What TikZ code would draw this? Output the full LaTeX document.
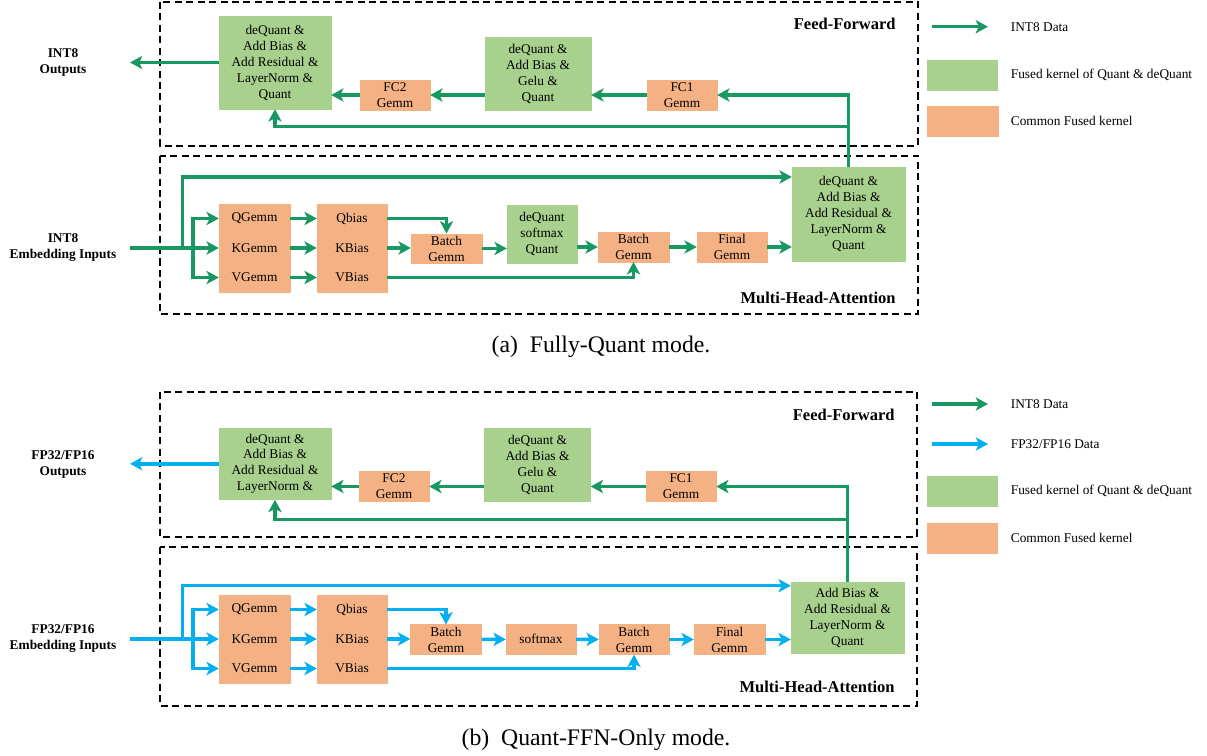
\documentclass[tikz,border=0pt]{standalone}
\usepackage{fontspec}
\setmainfont{Liberation Serif}
\usetikzlibrary{arrows.meta}

\definecolor{int8green}{RGB}{24,152,96}
\definecolor{fpblue}{RGB}{0,176,240}
\definecolor{fusedgreen}{RGB}{169,209,142}
\definecolor{commonorange}{RGB}{244,177,131}

\def\unit{0.02cm}

\tikzset{
  wh/.style 2 args={minimum width={#1*\unit}, minimum height={#2*\unit}},
  kernel/.style={inner sep=0pt, align=center, line width=0.2pt, font=\fontsize{7.6}{9.1}\selectfont},
  fused/.style={kernel, fill=fusedgreen, draw=fusedgreen},
  common/.style={kernel, fill=commonorange, draw=commonorange},
  int8/.style={draw=int8green, line width=2pt, -{Stealth[length=7pt,width=7.5pt,inset=1.8pt,fill=int8green]}},
  fp/.style={draw=fpblue, line width=2pt, -{Stealth[length=7pt,width=7.5pt,inset=1.8pt,fill=fpblue]}},
  block/.style={draw, line width=1.1pt, dash pattern=on 4pt off 2.5pt},
  io/.style={align=center, font=\fontsize{7.6}{9.1}\selectfont\bfseries},
  part/.style={anchor=east, inner sep=0pt, font=\fontsize{9.4}{11}\selectfont\bfseries},
  legend/.style={anchor=west, inner sep=0pt, font=\fontsize{7.6}{9}\selectfont},
  caption/.style={font=\fontsize{13.5}{16}\selectfont},
}

\begin{document}
\begin{tikzpicture}[x=\unit, y=-\unit]
\useasboundingbox (0,0) rectangle (1207,756);

% ---------------- (a) Fully-Quant mode ----------------
% Blocks
\draw[block] (160,2) rectangle (918,145.7);
\draw[block] (160,155.7) rectangle (918,314.3);
\node[part] (aFFname) at (896,24.3) {Feed-Forward};
\node[part] (aMHAname) at (896,297.7) {Multi-Head-Attention};

% Feed-Forward kernels
\node[fused, wh={112}{93}] (aOut) at (275,62.5) {deQuant \&\\Add Bias \&\\Add Residual \&\\LayerNorm \&\\Quant};
\node[common, wh={70}{30}] (aFC2) at (395,95) {FC2\\Gemm};
\node[fused, wh={106}{73}] (aGelu) at (538,73.5) {deQuant \&\\Add Bias \&\\Gelu \&\\Quant};
\node[common, wh={70}{30}] (aFC1) at (682,95) {FC1\\Gemm};

% Attention kernels
\node[common, wh={71}{29.5}] (aQg) at (254.5,218.5) {QGemm};
\node[common, wh={71}{29.5}] (aKg) at (254.5,248) {KGemm};
\node[common, wh={71}{29.5}] (aVg) at (254.5,277.5) {VGemm};
\node[common, wh={70}{29.5}] (aQb) at (352,218.5) {Qbias};
\node[common, wh={70}{29.5}] (aKb) at (352,248) {KBias};
\node[common, wh={70}{29.5}] (aVb) at (352,277.5) {VBias};
\node[common, wh={71}{29.5}] (aBatch1) at (446.5,248.5) {Batch\\Gemm};
\node[fused, wh={70}{58.7}] (aSoftmax) at (542,234.3) {deQuant\\softmax\\Quant};
\node[common, wh={71}{29.7}] (aBatch2) at (633.5,247) {Batch\\Gemm};
\node[common, wh={70}{29.7}] (aFinal) at (732,247) {Final\\Gemm};
\node[fused, wh={113}{94.7}] (aLN) at (848.5,214.3) {deQuant \&\\Add Bias \&\\Add Residual \&\\LayerNorm \&\\Quant};

% Inputs and outputs
\node[io] (aInName) at (63,248) {INT8\\Embedding Inputs};
\node[io] (aOutName) at (63,62.5) {INT8\\Outputs};
\coordinate (aInStart) at (130,248);
\coordinate (aOutEnd) at (130,62.5);
\coordinate (aSplit) at (193,248);
\coordinate (aSplitTop) at (182.3,248);
\coordinate (aTop) at (182.3,177);
\coordinate (aRes) at (848.5,126.7);

% Data flow
\draw[int8] (aInStart) -- (aKg);
\draw[int8] (aSplit) |- (aQg);
\draw[int8] (aSplit) |- (aVg);
\draw[int8] (aSplitTop) -- (aTop) -- (aTop -| aLN.west);
\draw[int8] (aQg) -- (aQb);
\draw[int8] (aKg) -- (aKb);
\draw[int8] (aVg) -- (aVb);
\draw[int8] (aQb) -| (aBatch1);
\draw[int8] (aKb) -- (aKb -| aBatch1.west);
\draw[int8] (aVb) -| (aBatch2);
\draw[int8] (aBatch1) -- (aBatch1 -| aSoftmax.west);
\draw[int8] (aSoftmax.east |- aBatch2) -- (aBatch2);
\draw[int8] (aBatch2) -- (aFinal);
\draw[int8] (aFinal) -- (aFinal -| aLN.west);
\draw[int8] (aLN) |- (aFC1);
\draw[int8] (aRes) -| (aOut);
\draw[int8] (aFC1) -- (aFC1 -| aGelu.east);
\draw[int8] (aGelu.west |- aFC2) -- (aFC2);
\draw[int8] (aFC2) -- (aFC2 -| aOut.east);
\draw[int8] (aOut) -- (aOutEnd);

% Legend
\coordinate (aKeyL) at (932,26.7);
\coordinate (aKeyR) at (988,26.7);
\draw[int8] (aKeyL) -- (aKeyR);
\node[legend] (aKeyInt8) at (1010.5,26.7) {INT8 Data};
\node[fused, wh={70}{30}] (aKeyFused) at (962.5,75) {};
\node[legend] (aKeyFusedName) at (1010.5,75) {Fused kernel of Quant \& deQuant};
\node[common, wh={71}{30}] (aKeyCommon) at (962.5,121) {};
\node[legend] (aKeyCommonName) at (1010.5,121) {Common Fused kernel};

\node[caption] (aCap) at (601,346.7) {(a)\enspace Fully-Quant mode.};

% ---------------- (b) Quant-FFN-Only mode ----------------
% Blocks
\draw[block] (160,391.7) rectangle (917,536.7);
\draw[block] (160,546.7) rectangle (917,705.7);
\node[part] (bFFname) at (895,415) {Feed-Forward};
\node[part] (bMHAname) at (895,687) {Multi-Head-Attention};

% Feed-Forward kernels
\node[fused, wh={112}{71.7}] (bOut) at (275,463.8) {deQuant \&\\Add Bias \&\\Add Residual \&\\LayerNorm \&};
\node[common, wh={70}{30}] (bFC2) at (394,486.5) {FC2\\Gemm};
\node[fused, wh={106}{73}] (bGelu) at (537.5,464.5) {deQuant \&\\Add Bias \&\\Gelu \&\\Quant};
\node[common, wh={70}{30}] (bFC1) at (681,486.5) {FC1\\Gemm};

% Attention kernels
\node[common, wh={71}{29.5}] (bQg) at (254.5,609.5) {QGemm};
\node[common, wh={71}{29.5}] (bKg) at (254.5,639) {KGemm};
\node[common, wh={71}{29.5}] (bVg) at (254.5,668.5) {VGemm};
\node[common, wh={70}{29.5}] (bQb) at (352,609.5) {Qbias};
\node[common, wh={70}{29.5}] (bKb) at (352,639) {KBias};
\node[common, wh={70}{29.5}] (bVb) at (352,668.5) {VBias};
\node[common, wh={71}{29.7}] (bBatch1) at (446,639.5) {Batch\\Gemm};
\node[common, wh={70}{30}] (bSoftmax) at (541,639.3) {softmax};
\node[common, wh={70}{30}] (bBatch2) at (634,639.5) {Batch\\Gemm};
\node[common, wh={71}{30}] (bFinal) at (729.5,639.5) {Final\\Gemm};
\node[fused, wh={113}{71.7}] (bLN) at (847.5,617.8) {Add Bias \&\\Add Residual \&\\LayerNorm \&\\Quant};

% Inputs and outputs
\node[io] (bInName) at (63,638.7) {FP32/FP16\\Embedding Inputs};
\node[io] (bOutName) at (63,464.5) {FP32/FP16\\Outputs};
\coordinate (bInStart) at (130,639);
\coordinate (bOutEnd) at (130,463.8);
\coordinate (bSplit) at (193,639);
\coordinate (bSplitTop) at (182.3,639);
\coordinate (bTop) at (182.3,585.7);
\coordinate (bRes) at (847.5,519.3);

% Data flow
\draw[fp] (bInStart) -- (bKg);
\draw[fp] (bSplit) |- (bQg);
\draw[fp] (bSplit) |- (bVg);
\draw[fp] (bSplitTop) -- (bTop) -- (bTop -| bLN.west);
\draw[fp] (bQg) -- (bQb);
\draw[fp] (bKg) -- (bKb);
\draw[fp] (bVg) -- (bVb);
\draw[fp] (bQb) -| (bBatch1);
\draw[fp] (bKb) -- (bKb -| bBatch1.west);
\draw[fp] (bVb) -| (bBatch2);
\draw[fp] (bBatch1) -- (bSoftmax);
\draw[fp] (bSoftmax) -- (bBatch2);
\draw[fp] (bBatch2) -- (bFinal);
\draw[fp] (bFinal) -- (bFinal -| bLN.west);
\draw[int8] (bLN) |- (bFC1);
\draw[int8] (bRes) -| (bOut);
\draw[int8] (bFC1) -- (bFC1 -| bGelu.east);
\draw[int8] (bGelu.west |- bFC2) -- (bFC2);
\draw[int8] (bFC2) -- (bFC2 -| bOut.east);
\draw[fp] (bOut) -- (bOutEnd);

% Legend
\coordinate (bKeyL) at (932,404);
\coordinate (bKeyR) at (988,404);
\draw[int8] (bKeyL) -- (bKeyR);
\node[legend] (bKeyInt8) at (1010.5,404) {INT8 Data};
\coordinate (bKeyFpL) at (932,444);
\coordinate (bKeyFpR) at (988,444);
\draw[fp] (bKeyFpL) -- (bKeyFpR);
\node[legend] (bKeyFp) at (1010.5,444) {FP32/FP16 Data};
\node[fused, wh={70}{30}] (bKeyFused) at (962.5,490.8) {};
\node[legend] (bKeyFusedName) at (1010.5,490.8) {Fused kernel of Quant \& deQuant};
\node[common, wh={70}{30}] (bKeyCommon) at (962.5,538) {};
\node[legend] (bKeyCommonName) at (1010.5,538) {Common Fused kernel};

\node[caption] (bCap) at (596,740) {(b)\enspace Quant-FFN-Only mode.};

\end{tikzpicture}
\end{document}
